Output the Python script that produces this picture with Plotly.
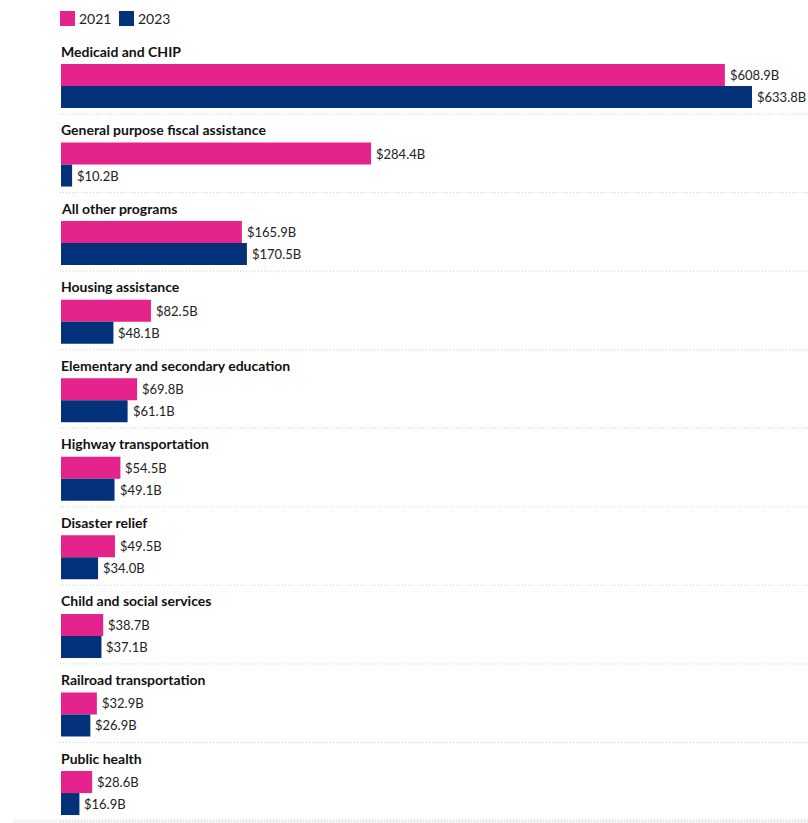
import plotly.graph_objects as go

# Federal grants to state and local governments by program (billions of dollars)
categories = [
    "Medicaid and CHIP",
    "General purpose fiscal assistance",
    "All other programs",
    "Housing assistance",
    "Elementary and secondary education",
    "Highway transportation",
    "Disaster relief",
    "Child and social services",
    "Railroad transportation",
    "Public health",
]
values_2021 = [608.9, 284.4, 165.9, 82.5, 69.8, 54.5, 49.5, 38.7, 32.9, 28.6]
values_2023 = [633.8, 10.2, 170.5, 48.1, 61.1, 49.1, 34.0, 37.1, 26.9, 16.9]
series_names = ["2021", "2023"]

PINK = "#e4238c"
NAVY = "#03317a"
TEXT = "#222222"
FONT = "Lato, 'Noto Sans', sans-serif"

W, H = 808, 823
LEFT = 61
PITCH = 78.56          # pixels per category block
FIRST_TITLE_PX = 51    # vertical centre of the first block title

# Offsets inside a block, in block units (title sits at 0)
OFF_A = 24 / PITCH
OFF_B = 46 / PITCH
OFF_SEP = 63 / PITCH
BAR_W = 22 / PITCH

idx = list(range(len(categories)))

fig = go.Figure()
for name, vals, off, color in [
    (series_names[0], values_2021, OFF_A, PINK),
    (series_names[1], values_2023, OFF_B, NAVY),
]:
    ys = [i + off for i in idx]
    fig.add_trace(go.Bar(
        name=name,
        orientation="h",
        x=vals,
        y=ys,
        width=BAR_W,
        marker=dict(color=color, line=dict(width=0)),
        showlegend=False,
        hoverinfo="skip",
    ))
    # value labels just past the end of each bar
    for v, y in zip(vals, ys):
        fig.add_annotation(
            x=v, xref="x", y=y, yref="y",
            text=f"${v:.1f}B", showarrow=False,
            xanchor="left", yanchor="middle", xshift=3,
            font=dict(family=FONT, size=13, color=TEXT),
        )

# Block titles and dotted separators
for i, cat in zip(idx, categories):
    fig.add_annotation(
        x=0, xref="paper", y=i, yref="y",
        text=f"<b>{cat}</b>", showarrow=False,
        xanchor="left", yanchor="middle", xshift=-2,
        font=dict(family=FONT, size=14, color="#111111"),
    )
    fig.add_shape(
        type="line", xref="paper", yref="y",
        x0=-1 / (W - LEFT), x1=1, y0=i + OFF_SEP, y1=i + OFF_SEP,
        line=dict(color="#cfcfcf", width=1, dash="1px,2px"),
    )

def px_x(px):
    return (px - LEFT) / (W - LEFT)

def px_y(px):
    return 1 - px / H

# Pale footer band along the bottom edge
fig.add_shape(
    type="rect", xref="paper", yref="paper",
    x0=px_x(13), x1=1, y0=0, y1=px_y(819),
    fillcolor="#f6f6f6", line=dict(width=0), layer="below",
)

# Legend: coloured squares with labels
for name, color, sx in [(series_names[0], PINK, 60), (series_names[1], NAVY, 119)]:
    fig.add_shape(
        type="rect", xref="paper", yref="paper",
        x0=px_x(sx), x1=px_x(sx + 15), y0=px_y(26), y1=px_y(11),
        fillcolor=color, line=dict(width=0),
    )
    fig.add_annotation(
        x=px_x(sx + 17), xref="paper", y=px_y(18.5), yref="paper",
        text=name, showarrow=False, xanchor="left", yanchor="middle",
        font=dict(family=FONT, size=14, color=TEXT),
    )

x_max = 633.8 * (W - LEFT) / 691
y_top = -FIRST_TITLE_PX / PITCH
y_bottom = (H - FIRST_TITLE_PX) / PITCH

fig.update_layout(
    width=W, height=H,
    margin=dict(l=LEFT, r=0, t=0, b=0),
    paper_bgcolor="white", plot_bgcolor="white",
    barmode="overlay",
    xaxis=dict(range=[0, x_max], visible=False, fixedrange=True),
    yaxis=dict(range=[y_bottom, y_top], visible=False, fixedrange=True),
    font=dict(family=FONT, size=14, color=TEXT),
    showlegend=False,
)

fig.write_html("out.html")
